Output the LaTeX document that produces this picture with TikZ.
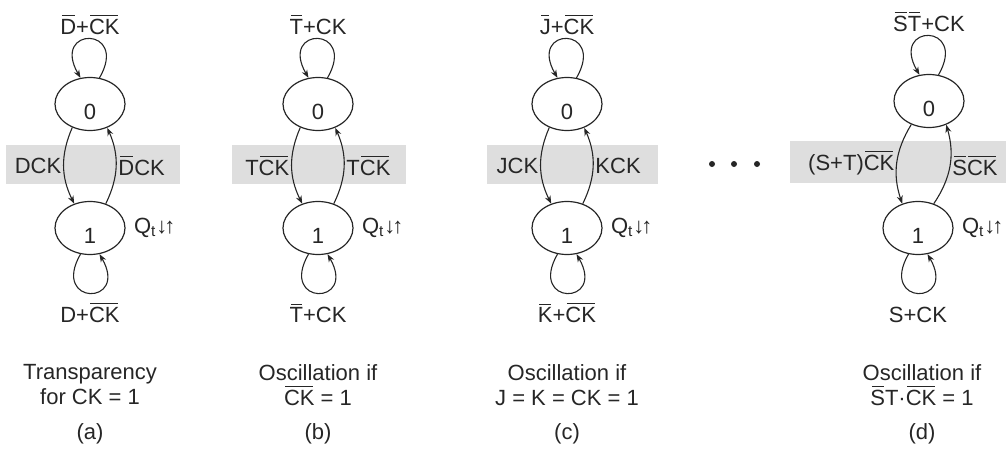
\documentclass[tikz,border=0pt]{standalone}
\usepackage{fontspec}
\setmainfont{Liberation Sans}
\usetikzlibrary{shapes.geometric, arrows.meta, positioning}
% short bar over a letter group, so that neighbouring bars stay apart
\newcommand{\inv}[1]{\setbox0\hbox{#1}\leavevmode\rlap{\kern0.7pt\raisebox{\dimexpr\ht0+1.4pt}{\rule{\dimexpr\wd0-1.4pt}{0.5pt}}}\box0\relax}

\begin{document}
\begin{tikzpicture}[x=0.5pt, y=-0.5pt,
    every node/.style={font=\fontsize{11}{12.5}\selectfont, text=black!85},
    state/.style={draw=black!85, ellipse, line width=0.6pt, minimum width=35pt,
        minimum height=26.5pt, inner sep=0pt, text height=15pt, text depth=0pt},
    arr/.style={draw=black!85, line width=0.55pt, -{Stealth[length=4pt, width=3pt]}},
    looplbl/.style={text height=10.5pt, text depth=1pt},
    band/.style={fill=black!13},
    caption/.style={align=center}]
    \useasboundingbox (0,0) rectangle (1008,450);

    % shaded bands behind the transitions
    \fill[band] (6,145) rectangle (180,184);
    \fill[band] (232,145) rectangle (406,184);
    \fill[band] (487,145) rectangle (658,184);
    \fill[band] (790,141) rectangle (1006,183);

    % (a) D latch
    \node[state] (a0) at (90,104) {0};
    \node[state] (a1) at (90,228) {1};
    \draw[arr] (a0.70) .. controls +(60:30pt) and +(120:30pt) .. node[above, looplbl, inner sep=1pt] {\inv{D}+\inv{CK}} (a0.110);
    \draw[arr] (a1.250) .. controls +(240:30pt) and +(300:30pt) .. node[below, looplbl, inner sep=4pt] {D+\inv{CK}} (a1.290);
    \draw[arr] (a0.233) to[bend right=25] node[left, inner sep=1pt] {DCK} (a1.123);
    \draw[arr] (a1.57) to[bend right=25] node[right, inner sep=1pt] {\inv{D}CK} (a0.306);
    \node[right=3pt of a1, inner sep=1pt] (aq) {Q\textsubscript{t}↓\kern-1.5pt↑};
    \node[caption] (acap) at (90,385) {Transparency\\for CK = 1};
    \node (alab) at (90,434) {(a)};

    % (b) T latch
    \node[state] (b0) at (318,104) {0};
    \node[state] (b1) at (318,228) {1};
    \draw[arr] (b0.70) .. controls +(60:30pt) and +(120:30pt) .. node[above, looplbl, inner sep=1pt] {\inv{T}+CK} (b0.110);
    \draw[arr] (b1.250) .. controls +(240:30pt) and +(300:30pt) .. node[below, looplbl, inner sep=4pt] {\inv{T}+CK} (b1.290);
    \draw[arr] (b0.233) to[bend right=25] node[left, inner sep=1pt] {T\inv{CK}} (b1.123);
    \draw[arr] (b1.57) to[bend right=25] node[right, inner sep=1pt] {T\inv{CK}} (b0.306);
    \node[right=3pt of b1, inner sep=1pt] (bq) {Q\textsubscript{t}↓\kern-1.5pt↑};
    \node[caption] (bcap) at (318,385) {Oscillation if\\\inv{CK} = 1};
    \node (blab) at (318,434) {(b)};

    % (c) JK latch
    \node[state] (c0) at (567,104) {0};
    \node[state] (c1) at (567,228) {1};
    \draw[arr] (c0.70) .. controls +(60:30pt) and +(120:30pt) .. node[above, looplbl, inner sep=1pt] {\inv{J}+\inv{CK}} (c0.110);
    \draw[arr] (c1.250) .. controls +(240:30pt) and +(300:30pt) .. node[below, looplbl, inner sep=4pt] {\inv{K}+\inv{CK}} (c1.290);
    \draw[arr] (c0.233) to[bend right=25] node[left, inner sep=1pt] {JCK} (c1.123);
    \draw[arr] (c1.57) to[bend right=25] node[right, inner sep=1pt] {KCK} (c0.306);
    \node[right=3pt of c1, inner sep=1pt] (cq) {Q\textsubscript{t}↓\kern-1.5pt↑};
    \node[caption] (ccap) at (567,385) {Oscillation if\\J = K = CK = 1};
    \node (clab) at (567,434) {(c)};

    % more latches
    \foreach \x in {712,734,757}
        \fill[black!85] (\x,164) circle (1.5pt);

    % (d) ST latch
    \node[state] (d0) at (929,101) {0};
    \node[state] (d1) at (918,228) {1};
    \draw[arr] (d0.70) .. controls +(60:30pt) and +(120:30pt) .. node[above, looplbl, inner sep=1pt] {\inv{S}\inv{T}+CK} (d0.110);
    \draw[arr] (d1.250) .. controls +(240:30pt) and +(300:30pt) .. node[below, looplbl, inner sep=4pt] {S+CK} (d1.290);
    \draw[arr] (d0.233) to[bend right=25] node[left, inner sep=1pt] {(S+T)\inv{CK}} (d1.123);
    \draw[arr] (d1.57) to[bend right=25] node[right, inner sep=1pt] {\inv{S}\inv{CK}} (d0.306);
    \node[right=3pt of d1, inner sep=1pt] (dq) {Q\textsubscript{t}↓\kern-1.5pt↑};
    \node[caption] (dcap) at (922,385) {Oscillation if\\\inv{S}T·\inv{CK} = 1};
    \node (dlab) at (922,434) {(d)};
\end{tikzpicture}
\end{document}
